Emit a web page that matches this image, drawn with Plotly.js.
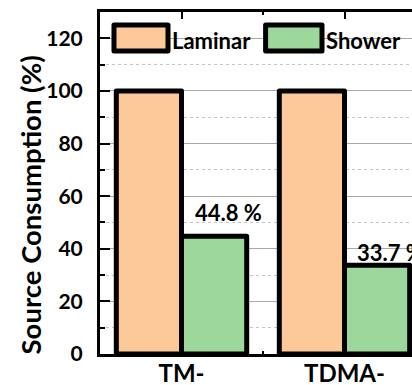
<!DOCTYPE html>
<html>
<head>
<meta charset="utf-8">
<script src="https://cdn.plot.ly/plotly-3.0.1.min.js"></script>
<style>
html, body { margin: 0; padding: 0; overflow: hidden; background: #fff; }
#chart { width: 440px; height: 385px; }
.bars path, .shapelayer path { stroke-linejoin: round; }
</style>
</head>
<body>
<div id="chart"></div>
<script>
// ---- data ----
const categories = ['TM-', 'TDMA-'];
const seriesNames = ['Laminar', 'Shower'];
const laminar = [100, 100];
const shower = [44.8, 33.7];
const showerLabels = ['44.8 %', '33.7 %'];
const yTicks = [0, 20, 40, 60, 80, 100, 120];

// ---- styles ----
const FONT = 'Lato, "Open Sans", sans-serif';
const colors = ['#FDC897', '#9ED79B'];
const bargap = 0.2;
const labelXShift = [14, 13];
const labelYShift = [24, 13];

const xIdx = categories.map((c, i) => i);

const traces = [laminar, shower].map((vals, s) => ({
  type: 'bar',
  name: seriesNames[s],
  x: xIdx,
  y: vals,
  marker: { color: colors[s], line: { color: '#000', width: 5 } },
  showlegend: false,
  hoverinfo: 'skip'
}));

const half = (1 - bargap) / 4;
const annotations = showerLabels.map((t, i) => ({
  x: xIdx[i] + half, y: shower[i], xref: 'x', yref: 'y',
  text: '<b>' + t + '</b>', showarrow: false,
  xanchor: 'center', yanchor: 'middle',
  xshift: labelXShift[i], yshift: labelYShift[i],
  font: { family: FONT, size: 22, color: '#000' }
}));

// y-axis title
annotations.push({
  x: -0.212, y: 0.437, xref: 'paper', yref: 'paper',
  text: '<b>Source Consumption (%)</b>', textangle: -90, showarrow: false,
  xanchor: 'center', yanchor: 'middle',
  font: { family: FONT, size: 27.5, color: '#000' }
});

// custom legend (large swatches)
const legendBoxes = [[0.0429, 0.2086], [0.508, 0.681]];
const legendTextX = [0.215, 0.687];
const shapes = legendBoxes.map((b, s) => ({
  type: 'rect', xref: 'paper', yref: 'paper',
  x0: b[0], x1: b[1], y0: 0.886, y1: 0.962,
  fillcolor: colors[s], line: { color: '#000', width: 5 }, layer: 'above'
}));
seriesNames.forEach((n, s) => annotations.push({
  x: legendTextX[s], y: 0.918, xref: 'paper', yref: 'paper',
  text: '<b>' + n + '</b>', showarrow: false,
  xanchor: 'left', yanchor: 'middle',
  font: { family: FONT, size: 22, color: '#000' }
}));

const layout = {
  width: 440, height: 385,
  margin: { l: 100, r: 14, t: 12, b: 31 },
  paper_bgcolor: '#fff', plot_bgcolor: '#fff',
  barmode: 'group', bargap: bargap, bargroupgap: 0,
  font: { family: FONT, color: '#000' },
  xaxis: {
    range: [-0.5, 1.5], tickvals: xIdx,
    ticktext: categories.map(c => '<b>' + c + '</b>'),
    tickfont: { family: FONT, size: 24, color: '#000' },
    ticks: 'inside', ticklen: 7, tickwidth: 2, tickcolor: '#000',
    showline: true, linewidth: 3, linecolor: '#000', mirror: 'ticks',
    showgrid: false, zeroline: false, ticklabelstandoff: -4,
    minor: { dtick: 0.5, tick0: -0.5, ticks: 'inside', ticklen: 3, tickwidth: 2, tickcolor: '#000', showgrid: false }
  },
  yaxis: {
    range: [0, 130], tickvals: yTicks,
    ticktext: yTicks.map(v => '<b>' + v + '</b>'),
    tickfont: { family: FONT, size: 21, color: '#000' },
    ticks: 'inside', ticklen: 10, tickwidth: 2, tickcolor: '#000',
    showline: true, linewidth: 3, linecolor: '#000', mirror: 'ticks',
    showgrid: true, gridcolor: '#a8a8a8', gridwidth: 1, zeroline: false,
    ticklabelstandoff: 10,
    minor: { dtick: 10, tick0: 0, ticks: 'inside', ticklen: 5, tickwidth: 2, tickcolor: '#000',
             showgrid: true, gridcolor: '#c4c4c4', gridwidth: 1, griddash: 'dot' }
  },
  annotations: annotations,
  shapes: shapes
};

Plotly.newPlot('chart', traces, layout, { staticPlot: true, displayModeBar: false });
</script>
</body>
</html>
